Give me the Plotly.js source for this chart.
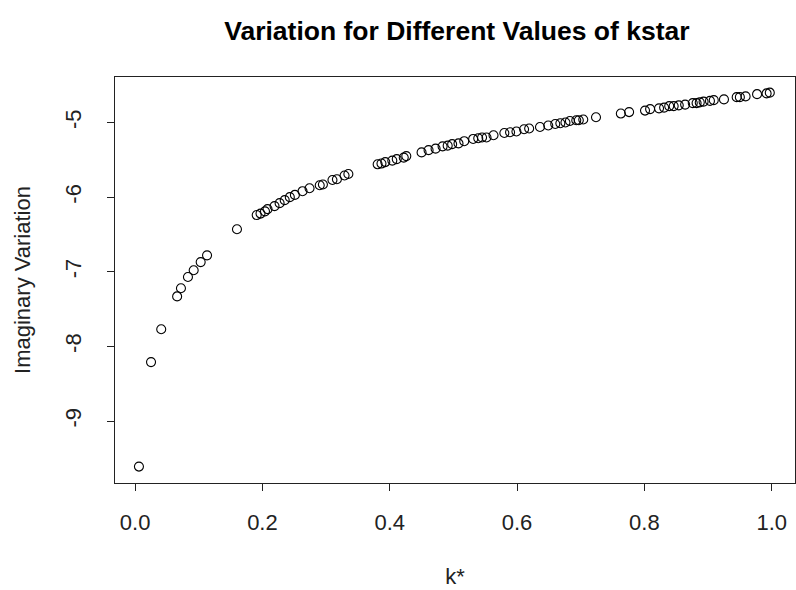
<!DOCTYPE html>
<html>
<head>
<meta charset="utf-8">
<script src="https://cdn.plot.ly/plotly-3.0.1.min.js"></script>
<style>html,body{margin:0;padding:0;background:#fff;}#chart{width:796px;height:590px;}</style>
</head>
<body>
<div id="chart"></div>
<script>
const kstar = [0.006,0.025,0.041,0.066,0.072,0.083,0.092,0.103,0.113,0.160,
  0.191,0.197,0.204,0.208,0.219,0.227,0.235,0.243,0.251,0.263,
  0.274,0.290,0.295,0.310,0.317,0.329,0.335,0.381,0.387,0.393,
  0.404,0.411,0.422,0.426,0.450,0.461,0.472,0.483,0.491,0.498,
  0.508,0.517,0.531,0.539,0.545,0.552,0.563,0.580,0.589,0.599,
  0.611,0.619,0.636,0.649,0.660,0.668,0.676,0.683,0.693,0.697,
  0.704,0.724,0.763,0.776,0.801,0.809,0.823,0.831,0.839,0.846,
  0.854,0.864,0.876,0.882,0.887,0.893,0.903,0.909,0.925,0.945,
  0.950,0.959,0.977,0.992,0.997];
const imagVar = [-9.61,-8.21,-7.77,-7.33,-7.22,-7.07,-6.98,-6.87,-6.78,-6.43,
  -6.24,-6.22,-6.19,-6.16,-6.12,-6.08,-6.04,-6.00,-5.97,-5.92,
  -5.88,-5.84,-5.83,-5.77,-5.76,-5.71,-5.69,-5.56,-5.55,-5.53,
  -5.51,-5.49,-5.47,-5.45,-5.40,-5.37,-5.35,-5.32,-5.31,-5.29,
  -5.28,-5.25,-5.22,-5.21,-5.20,-5.20,-5.17,-5.14,-5.13,-5.12,
  -5.09,-5.08,-5.06,-5.04,-5.02,-5.01,-5.00,-4.98,-4.97,-4.97,
  -4.96,-4.93,-4.88,-4.86,-4.84,-4.82,-4.81,-4.80,-4.78,-4.78,
  -4.77,-4.76,-4.74,-4.74,-4.73,-4.72,-4.71,-4.70,-4.69,-4.66,
  -4.66,-4.65,-4.62,-4.61,-4.60];
const xTicks = [0.0,0.2,0.4,0.6,0.8,1.0];
const xTickText = ["0.0","0.2","0.4","0.6","0.8","1.0"];
const yTicks = [-9,-8,-7,-6,-5];
const yTickText = ["-9","-8","-7","-6","-5"];

const font = "Liberation Sans, Arial, sans-serif";
const trace = {
  x: kstar, y: imagVar, type: 'scatter', mode: 'markers',
  marker: {symbol: 'circle-open', size: 9, color: '#000', line: {width: 1.1, color: '#000'}},
  hoverinfo: 'x+y'
};
const layout = {
  width: 796, height: 590,
  margin: {l: 115, r: 1, t: 77, b: 107},
  paper_bgcolor: '#fff', plot_bgcolor: '#fff',
  showlegend: false,
  font: {family: font, color: '#000', size: 22},
  title: {text: '<b>Variation for Different Values of kstar</b>', font: {family: font, size: 26.5, color: '#000'},
          x: 0.574, xanchor: 'center', y: 0.948, yanchor: 'middle'},
  xaxis: {
    range: [-0.0316, 1.0366], tickmode: 'array', tickvals: xTicks, ticktext: xTickText,
    showgrid: false, zeroline: false, showline: true, mirror: true, linecolor: '#222', linewidth: 1,
    ticks: 'outside', ticklen: 7, tickcolor: '#222', tickwidth: 1,
    ticklabelstandoff: 13, tickfont: {family: font, size: 22, color: '#222'},
    title: {text: 'k*', font: {family: font, size: 22, color: '#222'}, standoff: 34},
    automargin: false
  },
  yaxis: {
    range: [-9.83, -4.39], tickmode: 'array', tickvals: yTicks, ticktext: yTickText,
    showgrid: false, zeroline: false, showline: true, mirror: true, linecolor: '#222', linewidth: 1,
    ticks: 'outside', ticklen: 7, tickcolor: '#222', tickwidth: 1, tickangle: -90,
    ticklabelstandoff: 17, tickfont: {family: font, size: 22, color: '#222'},
    title: {text: 'Imaginary Variation', font: {family: font, size: 22, color: '#222'}, standoff: 24},
    automargin: false
  }
};
Plotly.newPlot('chart', [trace], layout, {displayModeBar: false, staticPlot: false});
</script>
</body>
</html>
